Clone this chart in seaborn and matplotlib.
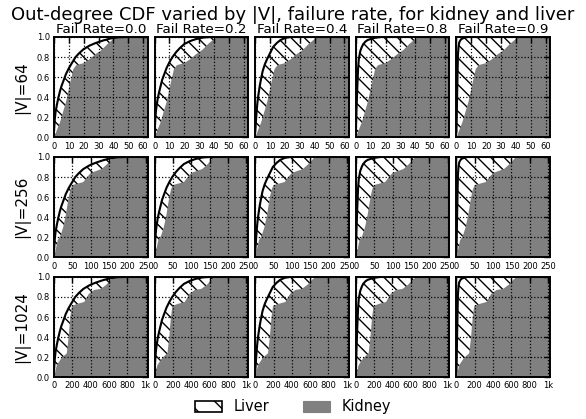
import matplotlib
matplotlib.use("Agg")
import matplotlib.pyplot as plt
from matplotlib.patches import Patch
from matplotlib.ticker import FixedLocator
import seaborn as sns

# ---------------- data ----------------
fail_rates = ["0.0", "0.2", "0.4", "0.8", "0.9"]
sizes = ["64", "256", "1024"]
max_degree = [63, 255, 1023]
x_ticks = [[0, 10, 20, 30, 40, 50, 60],
           [0, 50, 100, 150, 200, 250],
           [0, 200, 400, 600, 800, 1000]]
x_tick_labels = [["0", "10", "20", "30", "40", "50", "60"],
                 ["0", "50", "100", "150", "200", "250"],
                 ["0", "200", "400", "600", "800", "1k"]]
y_ticks = [0.0, 0.2, 0.4, 0.6, 0.8, 1.0]

# liver out-degree grids, one per |V|
liver_deg_64 = [0, 0.5, 1, 1.5, 2, 3, 4, 5, 6.5, 8, 10, 12, 14.5, 17, 20, 24, 28, 33, 38, 43, 50, 63]
liver_deg_256 = [0, 2, 4, 6, 8, 12, 16, 20, 26, 32, 40, 48, 58, 68, 80, 96, 112, 132, 152, 172, 200, 255]
liver_deg_1024 = [0, 8, 16, 24, 32, 48, 64, 80, 104, 128, 160, 192, 232, 272, 320, 384, 448, 528, 608, 688, 800, 1023]

# liver CDF per failure rate
liver_cdf_00 = [0.07, 0.18, 0.25, 0.29, 0.33, 0.40, 0.46, 0.51, 0.57, 0.63, 0.69, 0.74, 0.80, 0.84, 0.88, 0.915, 0.94, 0.965, 0.985, 0.997, 1.0, 1.0]
liver_cdf_02 = [0.06, 0.20, 0.28, 0.33, 0.38, 0.45, 0.51, 0.57, 0.63, 0.69, 0.75, 0.80, 0.85, 0.89, 0.93, 0.96, 0.98, 0.995, 1.0, 1.0, 1.0, 1.0]
liver_cdf_04 = [0.05, 0.17, 0.27, 0.35, 0.41, 0.51, 0.59, 0.66, 0.73, 0.78, 0.84, 0.90, 0.94, 0.97, 0.99, 1.0, 1.0, 1.0, 1.0, 1.0, 1.0, 1.0]
liver_cdf_08 = [0.05, 0.30, 0.50, 0.68, 0.78, 0.86, 0.90, 0.93, 0.955, 0.97, 0.98, 0.99, 0.995, 1.0, 1.0, 1.0, 1.0, 1.0, 1.0, 1.0, 1.0, 1.0]
liver_cdf_09 = [0.05, 0.45, 0.82, 0.92, 0.95, 0.975, 0.985, 0.99, 0.997, 1.0, 1.0, 1.0, 1.0, 1.0, 1.0, 1.0, 1.0, 1.0, 1.0, 1.0, 1.0, 1.0]

# kidney CDF per |V| (same for all failure rates)
kidney_deg_64 = [0, 4, 8, 11, 13, 15, 20, 24, 28, 32, 36, 40, 42, 63]
kidney_cdf_64 = [0, 0.15, 0.35, 0.55, 0.68, 0.72, 0.74, 0.78, 0.83, 0.87, 0.93, 0.98, 1.0, 1.0]
kidney_deg_256 = [0, 10, 18, 25, 32, 40, 45, 50, 60, 80, 90, 100, 115, 130, 145, 155, 162, 255]
kidney_cdf_256 = [0, 0.17, 0.22, 0.30, 0.42, 0.60, 0.68, 0.72, 0.73, 0.75, 0.80, 0.84, 0.86, 0.88, 0.93, 0.97, 1.0, 1.0]
kidney_deg_1024 = [0, 30, 80, 140, 160, 178, 195, 250, 330, 380, 440, 510, 570, 620, 660, 1023]
kidney_cdf_1024 = [0, 0.12, 0.19, 0.24, 0.40, 0.60, 0.71, 0.73, 0.75, 0.83, 0.87, 0.88, 0.92, 0.97, 1.0, 1.0]

liver_degs = [liver_deg_64, liver_deg_256, liver_deg_1024]
liver_cdfs = [liver_cdf_00, liver_cdf_02, liver_cdf_04, liver_cdf_08, liver_cdf_09]
kidney_degs = [kidney_deg_64, kidney_deg_256, kidney_deg_1024]
kidney_cdfs = [kidney_cdf_64, kidney_cdf_256, kidney_cdf_1024]

# ---------------- style ----------------
sns.set_style("white")
plt.rcParams["font.family"] = ["DejaVu Sans"]
plt.rcParams["text.color"] = "black"
plt.rcParams["axes.labelcolor"] = "black"
plt.rcParams["xtick.color"] = "black"
plt.rcParams["ytick.color"] = "black"
plt.rcParams["hatch.linewidth"] = 1.25
plt.rcParams["hatch.color"] = "black"

DPI = 80
fig, axes = plt.subplots(3, 5, figsize=(586 / DPI, 419 / DPI), dpi=DPI)
fig.subplots_adjust(left=0.0922, right=0.9386, top=0.9117, bottom=0.0995,
                    wspace=0.075, hspace=0.194)

for r in range(3):
    for c in range(5):
        ax = axes[r, c]
        lx = liver_degs[r]
        ly = liver_cdfs[c]
        ax.fill_between(lx, 0, ly, facecolor="white", edgecolor="black",
                        hatch="\\\\", linewidth=0, zorder=1)
        ax.fill_between(kidney_degs[r], 0, kidney_cdfs[r], facecolor="#808080",
                        edgecolor="none", linewidth=0, zorder=2)
        sns.lineplot(x=lx, y=ly, ax=ax, color="black", linewidth=1.9,
                     zorder=3, sort=False, estimator=None)
        ax.set_xlim(0, max_degree[r])
        ax.set_ylim(0, 1.0)
        ax.xaxis.set_major_locator(FixedLocator(x_ticks[r]))
        ax.set_xticklabels(x_tick_labels[r])
        ax.yaxis.set_major_locator(FixedLocator(y_ticks))
        if c == 0:
            ax.set_yticklabels([f"{v:.1f}" for v in y_ticks])
            ax.set_ylabel(f"|V|={sizes[r]}", fontsize=13.75, labelpad=6)
        else:
            ax.set_yticklabels([])
        if r == 0:
            ax.set_title(f"Fail Rate={fail_rates[c]}", fontsize=12.1, pad=4)
        ax.grid(True, color="black", linestyle=":", linewidth=1.1)
        ax.set_axisbelow(False)
        ax.tick_params(direction="in", top=True, right=True, length=5,
                       width=1.25, labelsize=7.5, pad=3.75, color="black")
        for s in ax.spines.values():
            s.set_visible(True)
            s.set_linewidth(1.75)
            s.set_color("black")
            s.set_zorder(5)

fig.suptitle("Out-degree CDF varied by |V|, failure rate, for kidney and liver",
             fontsize=16.25, y=0.985)

handles = [Patch(facecolor="white", edgecolor="black", hatch="\\", linewidth=1.5, label="Liver"),
           Patch(facecolor="#808080", edgecolor="#808080", label="Kidney")]
fig.legend(handles=handles, loc="lower center", ncol=2, frameon=False,
           fontsize=13.1, handlelength=1.85, handleheight=0.8, handletextpad=0.8,
           columnspacing=2.3, bbox_to_anchor=(0.5, -0.02))

fig.savefig("out.png", dpi=DPI)
